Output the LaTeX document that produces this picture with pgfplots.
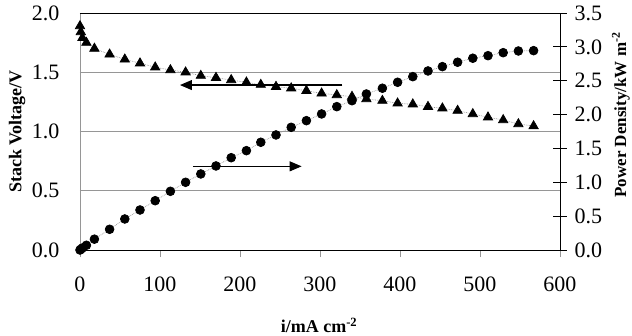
\documentclass[border=0pt]{standalone}
\usepackage{pgfplots}
\pgfplotsset{compat=1.18}
\usepackage{pgfplotstable}
\usetikzlibrary{arrows.meta}
\usepackage{fontspec}
\setmainfont{Liberation Serif}

\pgfplotstableread{
x V P
0 1.89 0.00
1 1.84 0.01
3 1.79 0.03
8 1.75 0.07
18 1.70 0.16
37 1.651 0.306
56 1.609 0.458
75 1.576 0.591
94 1.542 0.728
113 1.519 0.867
132 1.500 1.000
151 1.471 1.123
170 1.454 1.241
189 1.435 1.363
208 1.415 1.467
226 1.395 1.591
245 1.378 1.699
264 1.365 1.812
283 1.344 1.910
302 1.322 2.009
321 1.308 2.117
340 1.294 2.205
358 1.274 2.304
378 1.260 2.389
397 1.238 2.477
416 1.230 2.560
435 1.209 2.644
453 1.196 2.708
472 1.176 2.773
491 1.148 2.832
510 1.120 2.870
529 1.097 2.914
548 1.063 2.939
567 1.046 2.944
}\data

\definecolor{gridgray}{RGB}{150,150,150}

\begin{document}
\begin{tikzpicture}
\begin{axis}[
  at={(0,0)}, anchor=south west,
  scale only axis, width=480pt, height=237pt,
  xmin=0, xmax=600, ymin=0, ymax=2,
  clip=false,
  axis x line*=bottom, axis y line*=left,
  x axis line style={black, line width=0.8pt, -},
  y axis line style={gridgray, line width=0.8pt, -},
  xtick={0,100,200,300,400,500,600},
  ytick={0,0.5,1,1.5,2},
  ymajorgrids, grid style={gridgray, line width=0.8pt},
  ytick style={draw=none},
  xtick style={gridgray, line width=0.8pt},
  tick align=outside, major tick length=7pt,
  /pgf/number format/assume math mode=true,
  yticklabel style={/pgf/number format/fixed, /pgf/number format/fixed zerofill, /pgf/number format/precision=1, xshift=-10pt},
  xticklabel style={yshift=-16pt},
  tick label style={font=\fontsize{22}{26}\selectfont},
  label style={font=\fontsize{18}{22}\selectfont\bfseries},
  xlabel={i/mA cm\textsuperscript{-2}},
  ylabel={Stack Voltage/V},
  xlabel style={at={(axis description cs:0.498,-0.318)}, anchor=center},
  ylabel style={at={(axis description cs:-0.131,0.5)}, anchor=center},
]
\addplot[draw=gridgray, densely dotted, line width=0.7pt, mark=triangle*, mark size=5.4pt,
  mark options={solid, fill=black, draw=black}] table[x=x, y=V] {\data};
\draw[black, line width=0.8pt] (axis cs:0,2) -- (axis cs:600,2);
\draw[black, line width=1.1pt, -{Triangle[length=12pt,width=10pt]}] (axis cs:328,1.392) -- (axis cs:125,1.392);
\draw[black, line width=1.1pt, -{Triangle[length=12pt,width=10pt]}] (axis cs:141,0.706) -- (axis cs:277,0.706);
\end{axis}
\begin{axis}[
  at={(0,0)}, anchor=south west,
  scale only axis, width=480pt, height=237pt,
  xmin=0, xmax=600, ymin=0, ymax=3.5,
  clip=false,
  axis x line=none, axis y line*=right,
  y axis line style={black, line width=0.8pt, -},
  ytick={0,0.5,1,1.5,2,2.5,3,3.5},
  ytick style={black, line width=0.8pt},
  tick align=center, major tick length=14pt,
  /pgf/number format/assume math mode=true,
  yticklabel style={/pgf/number format/fixed, /pgf/number format/fixed zerofill, /pgf/number format/precision=1, xshift=4pt},
  tick label style={font=\fontsize{22}{26}\selectfont},
  label style={font=\fontsize{17}{21}\selectfont\bfseries},
  ylabel={Power Density/kW m\textsuperscript{-2}},
  ylabel style={at={(axis description cs:1.127,0.57)}, anchor=center},
]
\addplot[draw=gridgray, densely dotted, line width=0.7pt, mark=*, mark size=4.4pt,
  mark options={solid, fill=black, draw=black}] table[x=x, y=P] {\data};
\end{axis}
\pgfresetboundingbox
\path (-80pt,-85pt) rectangle (552pt,250pt);
\end{tikzpicture}
\end{document}
